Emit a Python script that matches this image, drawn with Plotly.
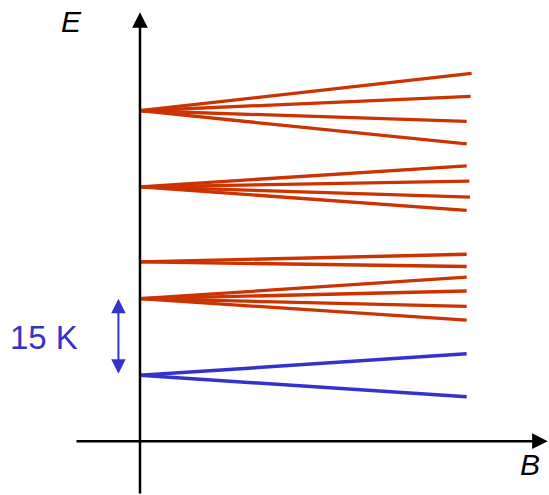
import plotly.graph_objects as go

# Zeeman-like splitting of crystal-field levels (E in K, B in arbitrary units)
red_levels = [51.8, 36.9, 22.2, 15.0]
red_ends = [
    [59.1, 54.6, 49.7, 45.3],
    [41.0, 38.0, 34.9, 32.3],
    [23.7, 21.3],
    [19.2, 16.5, 13.5, 10.8],
]
red_b_end = [
    [1.015, 1.012, 1.0, 1.0],
    [1.0, 1.008, 1.01, 1.0],
    [1.0, 1.0],
    [1.0, 1.0, 1.0, 1.0],
]
blue_level = 0.0
blue_ends = [4.2, -4.2]
gap_label = "15 K"
gap_value = 15.0

RED = "#CC3300"
BLUE = "#3333CC"

fig = go.Figure()

# red levels fanning out with field
for e0, ends, bends in zip(red_levels, red_ends, red_b_end):
    xs, ys = [], []
    for e1, b1 in zip(ends, bends):
        xs += [0, b1, None]
        ys += [e0, e1, None]
    fig.add_trace(go.Scatter(x=xs, y=ys, mode="lines",
                             line=dict(color=RED, width=3.3),
                             hoverinfo="skip", showlegend=False))

# ground doublet
xs, ys = [], []
for e1 in blue_ends:
    xs += [0, 1.0, None]
    ys += [blue_level, e1, None]
fig.add_trace(go.Scatter(x=xs, y=ys, mode="lines",
                         line=dict(color=BLUE, width=3.5),
                         hoverinfo="skip", showlegend=False))

font = "Liberation Sans, Arial, Helvetica, sans-serif"
annotations = [
    # E axis
    dict(x=0, y=71.1, ax=0, ay=-23.44, xref="x", yref="y", axref="x", ayref="y",
         text="", showarrow=True, arrowhead=2, arrowsize=1.25, arrowwidth=2.5,
         arrowcolor="black", standoff=0),
    # B axis
    dict(x=1.248, y=-12.9, ax=-0.199, ay=-12.9, xref="x", yref="y", axref="x", ayref="y",
         text="", showarrow=True, arrowhead=2, arrowsize=1.25, arrowwidth=2.5,
         arrowcolor="black", standoff=0),
    # gap arrow
    dict(x=-0.066, y=gap_value, ax=-0.066, ay=blue_level, xref="x", yref="y",
         axref="x", ayref="y", text="", showarrow=True, arrowside="end+start",
         arrowhead=2, startarrowhead=2, arrowsize=1.45, startarrowsize=1.45,
         arrowwidth=2, arrowcolor=BLUE, standoff=0, startstandoff=0),
    dict(x=-0.294, y=7.4, xref="x", yref="y", text=gap_label, showarrow=False,
         font=dict(family=font, size=33, color=BLUE), xanchor="center", yanchor="middle"),
    dict(x=-0.209, y=69.2, xref="x", yref="y", text="<i>E</i>", showarrow=False,
         font=dict(family=font, size=30, color="black"), xanchor="center", yanchor="middle"),
    dict(x=1.193, y=-17.4, xref="x", yref="y", text="<i>B</i>", showarrow=False,
         font=dict(family=font, size=30, color="black"), xanchor="center", yanchor="middle"),
]

fig.update_layout(
    width=549, height=495,
    margin=dict(l=0, r=0, t=0, b=0),
    paper_bgcolor="white", plot_bgcolor="white",
    xaxis=dict(range=[-0.4285, 1.2519], visible=False, fixedrange=True),
    yaxis=dict(range=[-23.44, 73.48], visible=False, fixedrange=True),
    annotations=annotations,
)

# drop the default page margin so the figure sits at the window's corner
fig.write_html("out.html", config={"displayModeBar": False},
               post_script="document.body.style.margin='0';")
